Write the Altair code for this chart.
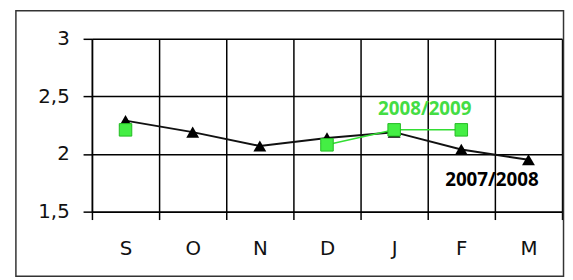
import altair as alt
import pandas as pd

months = ["S", "O", "N", "D", "J", "F", "M"]
y0708 = [2.29, 2.19, 2.07, 2.14, 2.19, 2.04, 1.95]
m0809 = ["S", "D", "J", "F"]
y0809 = [2.21, 2.08, 2.21, 2.21]
seg0809 = [0, 1, 1, 1]
lab_text = ["2008/2009", "2007/2008"]
lab_month = ["J", "F"]
lab_value = [2.39, 1.77]
lab_color = ["#44dd44", "#000000"]

df1 = pd.DataFrame({"month": months, "value": y0708})
df2 = pd.DataFrame({"month": m0809, "value": y0809, "seg": seg0809})
dfl = pd.DataFrame({"month": lab_month, "value": lab_value, "text": lab_text, "color": lab_color})

xs = alt.Scale(domain=months, paddingInner=0, paddingOuter=0)
ys = alt.Scale(domain=[1.5, 3], nice=False, zero=False)

xenc = alt.X("month:N", scale=xs, sort=months, title=None,
             axis=alt.Axis(tickBand="extent", grid=True, gridColor="#000", gridWidth=1.5,
                           domainColor="#000", domainWidth=1.5, tickColor="#000", tickWidth=1.5,
                           tickSize=8, labelAngle=0, labelFont="DejaVu Sans", labelFontSize=20,
                           labelColor="#111", labelPadding=19))
yenc = alt.Y("value:Q", scale=ys, title=None,
             axis=alt.Axis(values=[1.5, 2, 2.5, 3], grid=True, gridColor="#000", gridWidth=1.5,
                           domainColor="#000", domainWidth=1.5, tickColor="#000", tickWidth=1.5,
                           tickSize=9, labelFont="DejaVu Sans", labelFontSize=20,
                           labelColor="#111", labelPadding=14,
                           labelExpr="replace(format(datum.value, '.1~f'), '.', ',')"))

frame = alt.Chart(pd.DataFrame({"a": [0]})).mark_rect(
    fill=None, stroke="#333", strokeWidth=1.5
).encode(x=alt.value(-77), x2=alt.value(477.5), y=alt.value(-28.5), y2=alt.value(240.5))

black_line = alt.Chart(df1).mark_line(color="#111", strokeWidth=2).encode(x=xenc, y=yenc)
black_pts = alt.Chart(df1).mark_point(shape="triangle-up", filled=True, color="#000", size=170, opacity=1).encode(x=xenc, y=yenc)
green_line = alt.Chart(df2).mark_line(color="#33dd33", strokeWidth=1.5).encode(x=xenc, y=yenc, detail="seg:N")
green_pts = alt.Chart(df2).mark_point(shape="square", filled=True, fill="#44ee44", stroke="#22bb22",
                                       strokeWidth=1, size=160, opacity=1).encode(x=xenc, y=yenc)
labels = alt.Chart(dfl).mark_text(font="Open Sans", fontWeight="bold", fontSize=19, dx=31).encode(
    x=xenc, y=yenc, text="text:N", color=alt.Color("color:N", scale=None))

chart = alt.layer(frame, black_line, black_pts, green_line, green_pts, labels).properties(
    width=476, height=175,
    autosize=alt.AutoSizeParams(type="none"),
    padding={"left": 85, "top": 29.5, "right": 3, "bottom": 67},
).configure_view(stroke="#000", strokeWidth=1.5).configure(background="white")

chart.save("out.html", embed_options={"renderer": "svg", "actions": False})
